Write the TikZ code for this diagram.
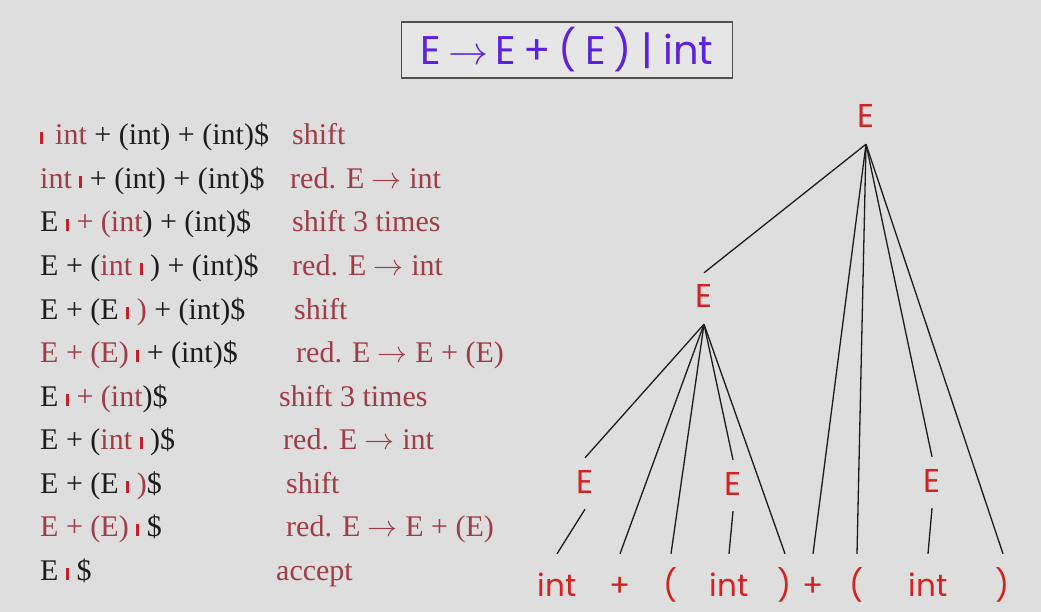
\RequirePackage{fix-cm}
\documentclass[tikz,border=0pt]{standalone}
\usepackage{fontspec}
\setmainfont{Liberation Serif}
\newfontfamily\gothic{Poppins}
\usetikzlibrary{positioning}
\definecolor{bg}{RGB}{222,222,222}
\definecolor{boxfill}{RGB}{230,230,230}
\definecolor{boxline}{RGB}{80,80,80}
\definecolor{stackred}{RGB}{160,60,70}
\definecolor{barred}{RGB}{200,30,40}
\definecolor{treered}{RGB}{212,34,34}
\definecolor{titleblue}{RGB}{92,34,222}
\definecolor{ink}{RGB}{28,28,28}
\newcommand{\cursor}{{\color{barred}\rule[0.5pt]{3pt}{12pt}}}
\newcommand{\redtxt}[1]{{\color{stackred}#1}}
\newcommand{\gap}{\hspace{8pt}}
\begin{document}
\begin{tikzpicture}[x=1pt,y=-1pt,
  row/.style={anchor=base west,inner sep=0pt,font=\fontsize{30}{31}\selectfont,text=ink},
  act/.style={row,text=stackred},
  nt/.style={anchor=base,font=\gothic\fontsize{33}{34}\selectfont,text=treered,
    text height=19pt,text depth=0pt,inner xsep=0pt,inner ysep=16pt},
  leaf/.style={nt,font=\gothic\fontsize{31}{32}\selectfont,text height=20pt,inner ysep=22pt},
  edge/.style={draw=ink,line width=1.3pt}]
\useasboundingbox[fill=bg] (0,0) rectangle (1041,612);
% grammar
\node [draw=boxline,line width=1.5pt,fill=boxfill,minimum width=331pt,minimum height=56pt,
  font=\gothic\fontsize{40}{42}\selectfont,text=titleblue] (gram) at (567,50)
  {E\hspace{7pt}$\rightarrow$\hspace{7pt}E\gap+\gap(\gap E\gap)\hspace{10pt}|\hspace{10pt}int\hspace{20pt}};
% stack
\node [row] (s1) at (40,145) {\cursor\hspace{12pt}\redtxt{int} + (int) + (int)\$};
\node [row] (s2) at (40,188.5) {\redtxt{int} \cursor{} + (int) + (int)\$};
\node [row] (s3) at (40,232) {E \cursor{} \redtxt{+ (int}) + (int)\$};
\node [row] (s4) at (40,275.5) {E + (\redtxt{int} \cursor{} ) + (int)\$};
\node [row] (s5) at (40,319) {E + (E \cursor{} \redtxt{)} + (int)\$};
\node [row] (s6) at (40,362.5) {\redtxt{E + (E)} \cursor{} + (int)\$};
\node [row] (s7) at (40,406) {E \cursor{} \redtxt{+ (int})\$};
\node [row] (s8) at (40,449.5) {E + (\redtxt{int} \cursor{} )\$};
\node [row] (s9) at (40,493) {E + (E \cursor{} \redtxt{)}\$};
\node [row] (s10) at (40,536.5) {\redtxt{E + (E)} \cursor{} \$};
\node [row] (s11) at (40,580) {E \cursor{} \$};
% actions
\node [act] (a1) at (292,145) {shift};
\node [act] (a2) at (290,188.5) {red. E $\rightarrow$ int};
\node [act] (a3) at (292,232) {shift 3 times};
\node [act] (a4) at (292,275.5) {red. E $\rightarrow$ int};
\node [act] (a5) at (294,319) {shift};
\node [act] (a6) at (296,362.5) {red. E $\rightarrow$ E + (E)};
\node [act] (a7) at (279,406) {shift 3 times};
\node [act] (a8) at (283,449.5) {red. E $\rightarrow$ int};
\node [act] (a9) at (286,493) {shift};
\node [act] (a10) at (286,536.5) {red. E $\rightarrow$ E + (E)};
\node [act] (a11) at (276,580) {accept};
% parse tree
\node [nt] (rE) at (866,128) {E};
\node [nt] (mE) at (704,308) {E};
\node [nt] (lE) at (585,493) {E};
\node [nt] (cE) at (733,495) {E};
\node [nt] (gE) at (932,492) {E};
\node [leaf] (l1) at (557,596) {int};
\node [leaf] (l2) at (620,596) {+};
\node [leaf] (l3) at (671,596) {(};
\node [leaf] (l4) at (729,596) {int};
\node [leaf] (l5) at (785,596) {)};
\node [leaf] (l6) at (813,596) {+};
\node [leaf] (l7) at (857,596) {(};
\node [leaf] (l8) at (928,596) {int};
\node [leaf] (l9) at (1003,596) {)};
\draw [edge] (rE.south) -- (mE.north);
\draw [edge] (rE.south) -- (l6.north);
\draw [edge] (rE.south) -- (l7.north);
\draw [edge] (rE.south) -- (gE.north);
\draw [edge] (rE.south) -- (l9.north);
\draw [edge] (mE.south) -- (lE.north);
\draw [edge] (mE.south) -- (l2.north);
\draw [edge] (mE.south) -- (l3.north);
\draw [edge] (mE.south) -- (cE.north);
\draw [edge] (mE.south) -- (l5.north);
\draw [edge] (lE.south) -- (l1.north);
\draw [edge] (cE.south) -- (l4.north);
\draw [edge] (gE.south) -- (l8.north);
\end{tikzpicture}
\end{document}
